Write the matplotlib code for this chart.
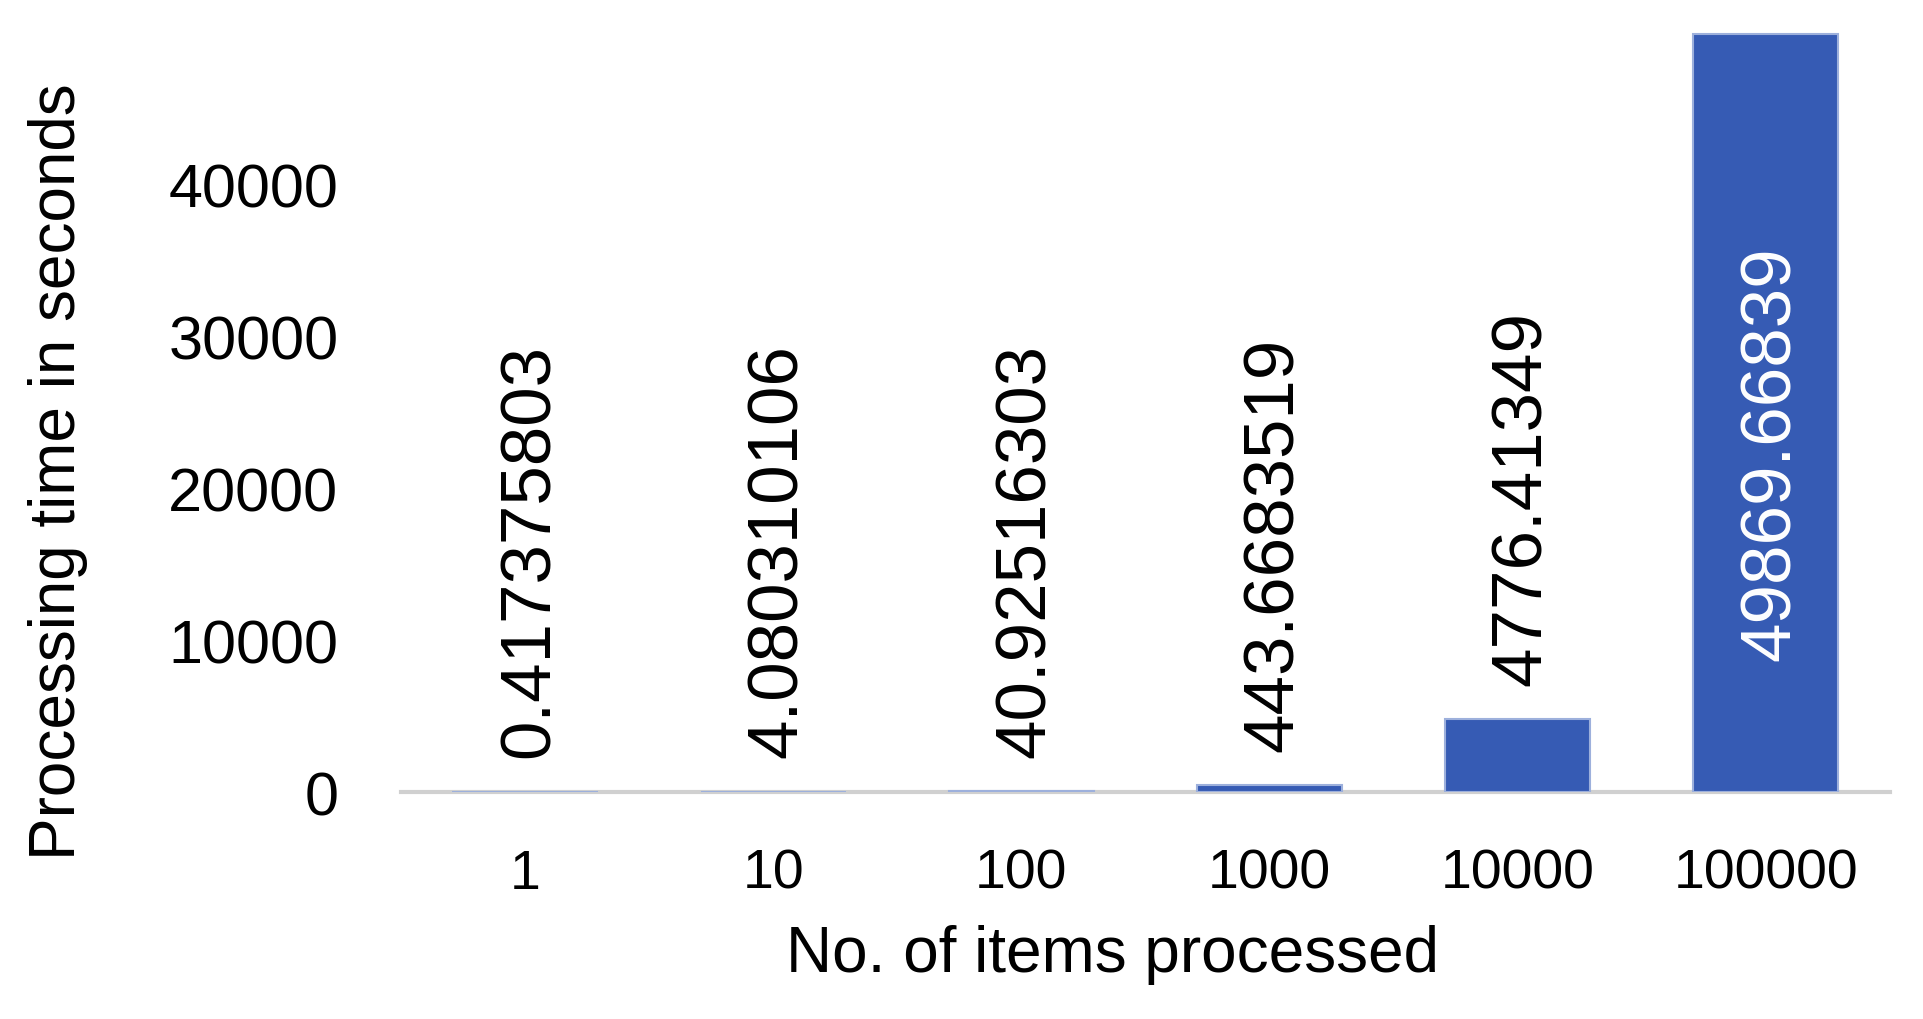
import matplotlib
matplotlib.use('Agg')
from matplotlib import pyplot as plt
import numpy as np

# data
items = ['1', '10', '100', '1000', '10000', '100000']
seconds = [0.417375803, 4.080310106, 40.92516303, 443.6683519, 4776.41349, 49869.66839]
labels = ['0.417375803', '4.080310106', '40.92516303', '443.6683519', '4776.41349', '49869.66839']
yticks = [0, 10000, 20000, 30000, 40000]

plt.rcParams['font.family'] = ['Liberation Sans', 'DejaVu Sans']

fig = plt.figure(figsize=(19.24, 10.20), dpi=100)
ax = fig.add_axes([0.2084, 0.2225, 0.9823 - 0.2084, 0.9676 - 0.2225])

bar_color = '#365BB4'
x = np.arange(len(items))
# thin edge so the near-zero bars still show as a faint line, like the original
ax.bar(x, seconds, width=0.585, color=bar_color, edgecolor='#9DB0DC',
       linewidth=1.5, zorder=3)

ax.set_xlim(-0.5, len(items) - 0.5)
ax.set_ylim(0, 50000)
ax.set_yticks(yticks)
ax.set_yticklabels([str(t) for t in yticks])
ax.set_xticks(x)
ax.set_xticklabels(items)

for s in ['top', 'right', 'left']:
    ax.spines[s].set_visible(False)
ax.spines['bottom'].set_color('#D0D0D0')
ax.spines['bottom'].set_linewidth(3)
ax.spines['bottom'].set_zorder(1)

ax.tick_params(axis='both', length=0, colors='black')
ax.tick_params(axis='y', pad=45, labelsize=44)
ax.tick_params(axis='x', pad=40, labelsize=40)

# value labels, last one sits inside the tall bar in white
for i, (v, lab) in enumerate(zip(seconds, labels)):
    if i == len(seconds) - 1:
        ax.annotate(lab, (x[i], v), xytext=(4, -152), textcoords='offset points',
                    rotation=90, ha='center', va='top', fontsize=51, color='white')
    else:
        ax.annotate(lab, (x[i], v), xytext=(4, 25), textcoords='offset points',
                    rotation=90, ha='center', va='bottom', fontsize=51, color='black')

fig.text(58 / 1924, 1 - 472 / 1020, 'Processing time in seconds', rotation=90,
         ha='center', va='center', fontsize=46)
fig.text(1112 / 1924, 1 - 955 / 1020, 'No. of items processed',
         ha='center', va='center', fontsize=46)

fig.savefig('out.png', dpi=100, facecolor='white')
